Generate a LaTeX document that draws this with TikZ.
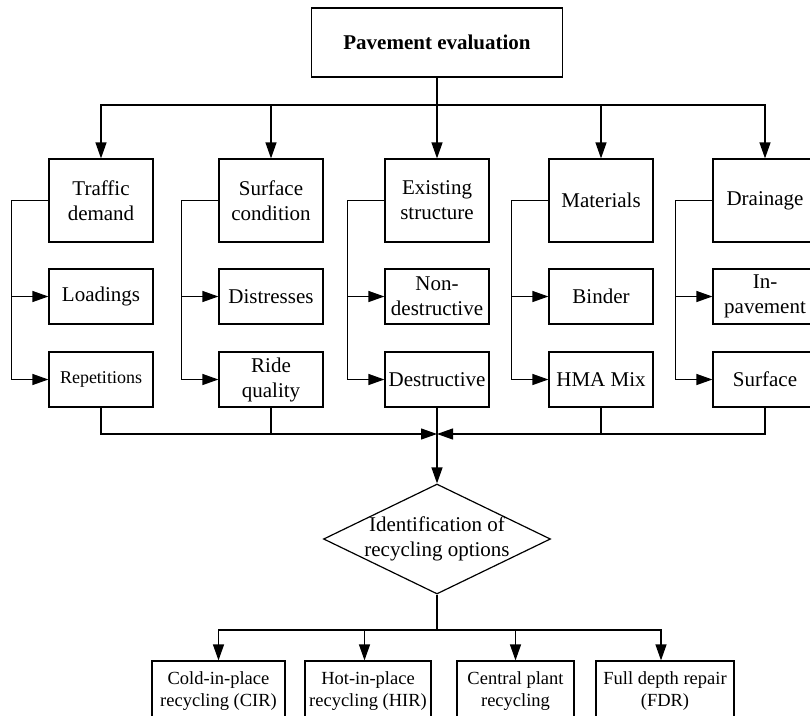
\documentclass[tikz,border=0pt]{standalone}
\usepackage{fontspec}
\setmainfont{Liberation Serif}
\usetikzlibrary{arrows.meta,shapes.geometric}

\begin{document}
\begin{tikzpicture}[x=1pt,y=-1pt,
  line width=1.2pt,
  box/.style={draw, align=center, inner sep=0pt, minimum width=104pt,
    font=\fontsize{21}{25}\selectfont},
  tallbox/.style={box, minimum height=83pt},
  shortbox/.style={box, minimum height=55pt},
  optbox/.style={draw, align=center, inner sep=0pt, minimum height=60pt,
    font=\fontsize{18.5}{22}\selectfont},
  arr/.style={-{Triangle[length=16pt,width=11pt]}},
]
\useasboundingbox (0,0) rectangle (810,715);
\clip (0,0) rectangle (810,715);

% root
\node[box, minimum width=251pt, minimum height=69pt,
  font=\bfseries\fontsize{21}{25}\selectfont] (top) at (437,42.5) {Pavement evaluation};

% evaluation categories
\node[tallbox] (t1) at (101,200.5) {Traffic\\demand};
\node[tallbox] (t2) at (271,200.5) {Surface\\condition};
\node[tallbox] (t3) at (437,200.5) {Existing\\structure};
\node[tallbox] (t4) at (601,200.5) {Materials};
\node[tallbox] (t5) at (765,200.5) {Drainage};

\node[shortbox] (m1) at (101,296.5) {Loadings};
\node[shortbox] (m2) at (271,296.5) {Distresses};
\node[shortbox] (m3) at (437,296.5) {Non-\\destructive};
\node[shortbox] (m4) at (601,296.5) {Binder};
\node[shortbox] (m5) at (765,296.5) {In-\\pavement};

\node[shortbox, font=\fontsize{18}{22}\selectfont] (s1) at (101,379.5) {Repetitions};
\node[shortbox] (s2) at (271,379.5) {Ride\\quality};
\node[shortbox] (s3) at (437,379.5) {Destructive};
\node[shortbox] (s4) at (601,379.5) {HMA Mix};
\node[shortbox] (s5) at (765,379.5) {Surface};

% decision
\node[draw, diamond, minimum width=227pt, minimum height=110pt, inner sep=0pt] (dec) at (437,539) {};
\node[align=center, inner sep=0pt, font=\fontsize{21}{25}\selectfont] (dectext) at (dec.center)
  {Identification of\\recycling options};

% recycling options
\node[optbox, minimum width=133pt] (o1) at (218.5,691) {Cold-in-place\\recycling (CIR)};
\node[optbox, minimum width=126pt] (o2) at (368,691) {Hot-in-place\\recycling (HIR)};
\node[optbox, minimum width=117pt] (o3) at (515.5,691) {Central plant\\recycling};
\node[optbox, minimum width=138pt] (o4) at (665,691) {Full depth repair\\(FDR)};

% root to categories
\coordinate (split) at (437,105);
\draw[arr] (top.south) -- (t3.north);
\foreach \n in {t1,t2,t4,t5} \draw[arr] (split) -| (\n.north);

% category branches
\foreach \i in {1,...,5}{
  \draw[arr] (t\i.west) -- ++(-37,0) |- (m\i.west);
  \draw[arr] (t\i.west) -- ++(-37,0) |- (s\i.west);
}

% merge into the decision
\coordinate (join) at (437,434);
\draw[arr] (s1.south) |- (join);
\draw (s2.south) -- (s2.south |- join);
\draw[arr] (s5.south) |- (join);
\draw (s4.south) -- (s4.south |- join);
\draw[arr] (s3.south) -- (dec.north);

% decision to options
\coordinate (fork) at (437,630);
\draw (dec.south) -- (fork);
\draw[arr] (fork) -| (o1.north);
\draw[arr] (fork) -| ([xshift=-3.5pt]o2.north);
\draw[arr] (fork) -| (o3.north);
\draw[arr] (fork) -| ([xshift=-4pt]o4.north);
\end{tikzpicture}
\end{document}
